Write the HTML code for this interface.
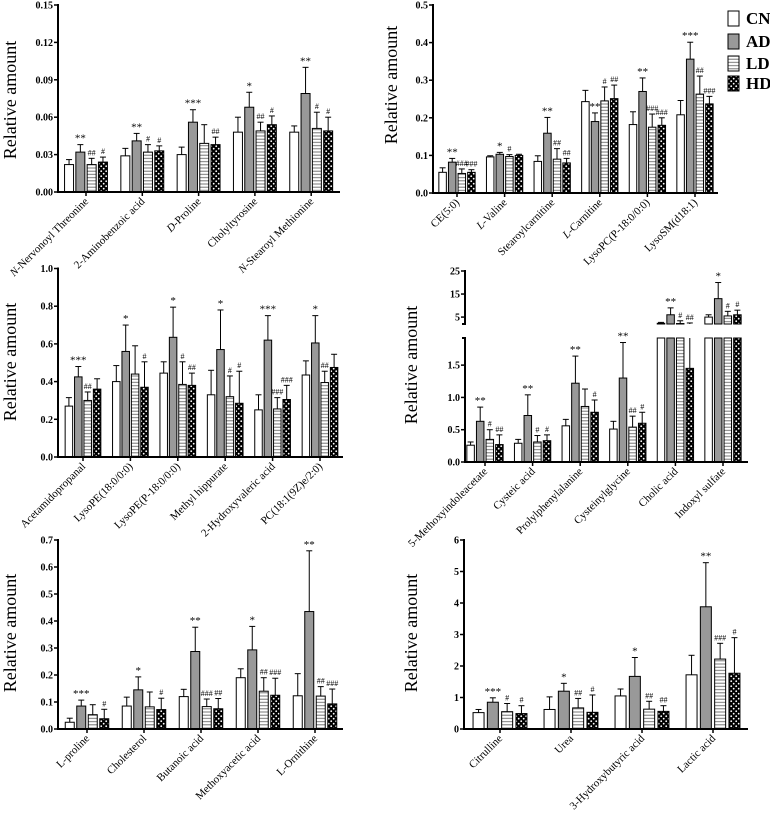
<!DOCTYPE html>
<html><head><meta charset="utf-8"><style>
html,body{margin:0;padding:0;background:#fff;}
svg{display:block;font-family:"Liberation Serif",serif;}
</style></head><body>
<svg id="fig" width="770" height="818" viewBox="0 0 770 818" xmlns="http://www.w3.org/2000/svg">
<defs>
<pattern id="pLD" width="4" height="3.2" patternUnits="userSpaceOnUse"><rect width="4" height="3.2" fill="#fff"/><line x1="0" y1="1.6" x2="4" y2="1.6" stroke="#777" stroke-width="1"/></pattern>
<pattern id="pHD" width="5" height="5" patternUnits="userSpaceOnUse"><rect width="5" height="5" fill="#000"/><circle cx="1.2" cy="1.2" r="0.9" fill="#fff"/><circle cx="3.7" cy="3.7" r="0.9" fill="#fff"/></pattern>
</defs>
<g id="legend">
<rect x="728" y="11" width="11" height="15" fill="#fff" stroke="#000"/><text x="746" y="24" font-size="17" font-weight="bold">CN</text>
<rect x="728" y="34" width="11" height="15" fill="#999" stroke="#000"/><text x="746" y="47" font-size="17" font-weight="bold">AD</text>
<rect x="728" y="56" width="11" height="15" fill="url(#pLD)" stroke="#000"/><text x="746" y="69" font-size="17" font-weight="bold">LD</text>
<rect x="728" y="76" width="11" height="15" fill="url(#pHD)" stroke="#000"/><text x="746" y="89" font-size="17" font-weight="bold">HD</text>
</g>
</svg>
<script>
// Panel A
const aCats=["|N-|Nervonoyl Threonine","2-Aminobenzoic acid","|D-|Proline","Cholyltyrosine","|N-|Stearoyl Methionine"];
const aCN=[.022,.029,.030,.048,.048], aCNe=[.004,.006,.006,.012,.005];
const aAD=[.032,.041,.056,.068,.079], aADe=[.006,.006,.010,.012,.021];
const aLD=[.022,.032,.039,.049,.051], aLDe=[.005,.006,.015,.007,.013];
const aHD=[.024,.033,.038,.054,.049], aHDe=[.004,.004,.006,.007,.011];
const aMarks=[["","**","##","#"],["","**","#","#"],["","***","","##"],["","*","##","#"],["","**","#","#"]];
const aTicks=[0,.03,.06,.09,.12,.15];
// Panel B
const bCats=["CE(5:0)","|L-|Valine","Stearoylcarnitine","|L-|Carnitine","LysoPC(P-18:0/0:0)","LysoSM(d18:1)"];
const bCN=[.055,.096,.084,.243,.182,.208], bCNe=[.012,.003,.015,.030,.034,.038];
const bAD=[.082,.103,.159,.190,.270,.356], bADe=[.010,.005,.042,.023,.036,.045];
const bLD=[.052,.097,.090,.245,.175,.263], bLDe=[.012,.005,.028,.037,.035,.048];
const bHD=[.055,.100,.080,.251,.180,.237], bHDe=[.007,.003,.012,.036,.020,.020];
const bMarks=[["","**","###","###"],["","*","#",""],["","**","##","##"],["","**","#","##"],["","**","###","###"],["","***","##","###"]];
const bTicks=[0,.1,.2,.3,.4,.5];
// Panel C
const cCats=["Acetamidopropanal","LysoPE(18:0/0:0)","LysoPE(P-18:0/0:0)","Methyl hippurate","2-Hydroxyvaleric acid","PC(18:1(9Z)e/2:0)"];
const cCN=[.27,.40,.445,.33,.25,.435], cCNe=[.045,.085,.06,.13,.08,.075];
const cAD=[.425,.56,.635,.57,.62,.605], cADe=[.055,.14,.16,.21,.13,.145];
const cLD=[.30,.44,.385,.32,.255,.395], cLDe=[.045,.15,.12,.11,.06,.06];
const cHD=[.36,.37,.38,.285,.305,.475], cHDe=[.055,.135,.065,.17,.075,.07];
const cMarks=[["","***","##",""],["","*","","#"],["","*","#","##"],["","*","#","#"],["","***","###","###"],["","*","##",""]];
const cTicks=[0,.2,.4,.6,.8,1.0];
// Panel D (broken axis)
const dCats=["5-Methoxyindoleacetate","Cysteic acid","Prolylphenylalanine","Cysteinylglycine","Cholic acid","Indoxyl sulfate"];
const dCN=[.26,.29,.56,.51,2.3,5], dCNe=[.05,.06,.10,.12,.4,1];
const dAD=[.63,.72,1.22,1.30,6,13], dADe=[.22,.32,.42,.55,3,7];
const dLD=[.35,.31,.86,.54,2.2,5.5], dLDe=[.15,.10,.27,.17,1.2,2];
const dHD=[.27,.33,.77,.60,1.45,6], dHDe=[.15,.09,.19,.17,1.0,2];
const dMarks=[["","**","#","##"],["","**","#","#"],["","**","","#"],["","**","##","#"],["","**","#","##"],["","*","#","#"]];
const dTicksLow=[0,.5,1.0,1.5], dTicksHigh=[5,15,25];
// Panel E
const eCats=["L-proline","Cholesterol","Butanoic acid","Methoxyacetic acid","L-Ornithine"];
const eCN=[.025,.085,.12,.19,.123], eCNe=[.015,.033,.027,.033,.082];
const eAD=[.085,.145,.287,.293,.435], eADe=[.022,.048,.09,.087,.225];
const eLD=[.053,.082,.083,.14,.122], eLDe=[.037,.055,.028,.05,.035];
const eHD=[.038,.072,.075,.125,.093], eHDe=[.035,.042,.038,.063,.055];
const eMarks=[["","***","","#"],["","*","","#"],["","**","###","##"],["","*","##","###"],["","**","##","###"]];
const eTicks=[0,.1,.2,.3,.4,.5,.6,.7];
// Panel F
const fCats=["Citrulline","Urea","3-Hydroxybutyric acid","Lactic acid"];
const fCN=[.52,.62,1.05,1.72], fCNe=[.10,.40,.22,.62];
const fAD=[.85,1.2,1.67,3.88], fADe=[.14,.25,.60,1.4];
const fLD=[.55,.67,.63,2.22], fLDe=[.26,.30,.25,.50];
const fHD=[.49,.53,.56,1.77], fHDe=[.25,.55,.18,1.13];
const fMarks=[["","***","#","#"],["","*","##","#"],["","*","##","##"],["","**","###","#"]];
const fTicks=[0,1,2,3,4,5,6];

const NS="http://www.w3.org/2000/svg";
const svg=document.getElementById('fig');
const fills=["#fff","#999","url(#pLD)","url(#pHD)"];
const grpNames=["cn","ad","ld","hd"];
function mk(tag,attrs,parent){const e=document.createElementNS(NS,tag);for(const k in attrs)e.setAttribute(k,attrs[k]);(parent||svg).appendChild(e);return e;}

function addLabel(g,cx,base,txt){
  const t=mk('text',{x:cx+3,y:base+10,'font-size':11,'text-anchor':'end',transform:`rotate(-45 ${cx+3} ${base+10})`},g);
  
  
  const parts=txt.split('|');
  parts.forEach((p,i)=>{if(!p)return;const s=mk('tspan',{},t);if(i%2===1)s.setAttribute('font-style','italic');s.textContent=p;});
}

function drawPanel(cfg,cats,means,errs,marks,ticks){
  const g=mk('g',{});
  
  
  const y=v=>cfg.base-(v-cfg.min)/(cfg.max-cfg.min)*(cfg.base-cfg.top);
  const yl=mk('text',{x:cfg.lx,y:cfg.ly,'font-size':18,'text-anchor':'middle',transform:`rotate(-90 ${cfg.lx} ${cfg.ly})`},g);
  
  
  yl.textContent="Relative amount";
  ticks.forEach(t=>{
    const ty=y(t);
    mk('line',{x1:cfg.ax-4,y1:ty,x2:cfg.ax,y2:ty,stroke:'#000','stroke-width':1.5},g);
    const tl=mk('text',{x:cfg.ax-5,y:ty+3.5,'font-size':10,'font-weight':'bold','text-anchor':'end'},g);
    
    
    tl.textContent=t.toFixed(cfg.dec);
  });
  cats.forEach((c,i)=>{
    const cx=cfg.c0+i*cfg.step;
    for(let k=0;k<4;k++){
      const v=means[k][i],e=errs[k][i];
      const bx=cx-2*cfg.pitch+k*cfg.pitch+(cfg.pitch-cfg.bw)/2;
      const mid=bx+cfg.bw/2, et=y(v+e);
      mk('line',{x1:mid,y1:y(v),x2:mid,y2:et,stroke:'#000','stroke-width':1},g);
      mk('line',{x1:mid-3,y1:et,x2:mid+3,y2:et,stroke:'#000','stroke-width':1},g);
      const r=mk('rect',{x:bx,y:y(v),width:cfg.bw,height:cfg.base-y(v),fill:fills[k],stroke:'#000','stroke-width':1},g);
      
      
      if(marks[i][k]){
        const m=mk('text',{x:mid,y:et-3,'font-size':marks[i][k][0]==='*'?11:8,'text-anchor':'middle'},g);
        
        
        m.textContent=marks[i][k];
      }
    }
    mk('line',{x1:cx,y1:cfg.base,x2:cx,y2:cfg.base+4,stroke:'#000','stroke-width':1.5},g);
    addLabel(g,cx,cfg.base,c);
  });
  mk('line',{x1:cfg.ax,y1:cfg.top-1,x2:cfg.ax,y2:cfg.base+1,stroke:'#000','stroke-width':2},g);
  mk('line',{x1:cfg.ax-1,y1:cfg.base,x2:cfg.axEnd,y2:cfg.base,stroke:'#000','stroke-width':2},g);
}

drawPanel({name:'panel-a',ax:58,axEnd:340,base:192,top:5,min:0,max:.15,dec:2,c0:86,step:56.3,pitch:11.3,bw:9,lx:16,ly:100},aCats,[aCN,aAD,aLD,aHD],[aCNe,aADe,aLDe,aHDe],aMarks,aTicks);
drawPanel({name:'panel-b',ax:433,axEnd:718,base:193,top:5,min:0,max:.5,dec:1,c0:457,step:47.6,pitch:9.6,bw:7.5,lx:397,ly:85},bCats,[bCN,bAD,bLD,bHD],[bCNe,bADe,bLDe,bHDe],bMarks,bTicks);
drawPanel({name:'panel-c',ax:58,axEnd:343,base:457,top:268.5,min:0,max:1.0,dec:1,c0:83,step:47.4,pitch:9.4,bw:7.5,lx:16,ly:362},cCats,[cCN,cAD,cLD,cHD],[cCNe,cADe,cLDe,cHDe],cMarks,cTicks);
drawPanel({name:'panel-e',ax:58,axEnd:343,base:729,top:540,min:0,max:.7,dec:1,c0:87,step:57,pitch:11.5,bw:9,lx:16,ly:633},eCats,[eCN,eAD,eLD,eHD],[eCNe,eADe,eLDe,eHDe],eMarks,eTicks);
drawPanel({name:'panel-f',ax:464,axEnd:748,base:729,top:540,min:0,max:6,dec:0,c0:500,step:71,pitch:14.3,bw:11,lx:417,ly:633},fCats,[fCN,fAD,fLD,fHD],[fCNe,fADe,fLDe,fHDe],fMarks,fTicks);

// Panel D broken axis
(function(){
  const g=mk('g',{});
  
  
  const ax=465,axEnd=748,base=462,lowTop=338,lowMax=1.92,upBase=324,upTop=271,upMin=2,upMax=25;
  const c0=485,step=47.6,pitch=9.6,bw=7.5;
  const yL=v=>base-Math.min(v,lowMax)/lowMax*(base-lowTop);
  const yU=v=>upBase-(Math.min(Math.max(v,upMin),upMax)-upMin)/(upMax-upMin)*(upBase-upTop);
  const yl=mk('text',{x:417,y:365,'font-size':18,'text-anchor':'middle',transform:'rotate(-90 417 365)'},g);
  
  
  yl.textContent="Relative amount";
  const tick=(ty,lab)=>{
    mk('line',{x1:ax-4,y1:ty,x2:ax,y2:ty,stroke:'#000','stroke-width':1.5},g);
    const tl=mk('text',{x:ax-5,y:ty+3.5,'font-size':10,'font-weight':'bold','text-anchor':'end'},g);
    
    
    tl.textContent=lab;
  };
  dTicksLow.forEach(t=>tick(yL(t),t.toFixed(1)));
  dTicksHigh.forEach(t=>tick(yU(t),String(t)));
  const means=[dCN,dAD,dLD,dHD],errs=[dCNe,dADe,dLDe,dHDe];
  dCats.forEach((c,i)=>{
    const cx=c0+i*step;
    for(let k=0;k<4;k++){
      const v=means[k][i],e=errs[k][i],t=v+e;
      const bx=cx-2*pitch+k*pitch+(pitch-bw)/2,mid=bx+bw/2;
      let et;
      if(v<lowMax) mk('line',{x1:mid,y1:yL(v),x2:mid,y2:yL(t),stroke:'#000','stroke-width':1},g);
      if(t>upMin) mk('line',{x1:mid,y1:yU(Math.max(v,upMin)),x2:mid,y2:yU(t),stroke:'#000','stroke-width':1},g);
      et=t>upMin?yU(t):yL(t);
      mk('line',{x1:mid-3,y1:et,x2:mid+3,y2:et,stroke:'#000','stroke-width':1},g);
      const r=mk('rect',{x:bx,y:yL(v),width:bw,height:base-yL(v),fill:fills[k],stroke:'#000','stroke-width':1},g);
      
      
      if(v>upMin){
        const r2=mk('rect',{x:bx,y:yU(v),width:bw,height:upBase-yU(v),fill:fills[k],stroke:'#000','stroke-width':1},g);
        
        
      }
      if(dMarks[i][k]){
        const m=mk('text',{x:mid,y:et-3,'font-size':dMarks[i][k][0]==='*'?11:8,'text-anchor':'middle'},g);
        
        
        m.textContent=dMarks[i][k];
      }
    }
    mk('line',{x1:cx,y1:base,x2:cx,y2:base+4,stroke:'#000','stroke-width':1.5},g);
    addLabel(g,cx,base,c);
  });
  mk('line',{x1:ax,y1:lowTop,x2:ax,y2:base+1,stroke:'#000','stroke-width':2},g);
  mk('line',{x1:ax,y1:upTop-1,x2:ax,y2:upBase,stroke:'#000','stroke-width':2},g);
  mk('line',{x1:ax-3,y1:lowTop,x2:ax+1,y2:lowTop,stroke:'#000','stroke-width':2},g);
  mk('line',{x1:ax-3,y1:upBase,x2:ax+1,y2:upBase,stroke:'#000','stroke-width':2},g);
  mk('line',{x1:ax-1,y1:base,x2:axEnd,y2:base,stroke:'#000','stroke-width':2},g);
})();
</script>
</body></html>
